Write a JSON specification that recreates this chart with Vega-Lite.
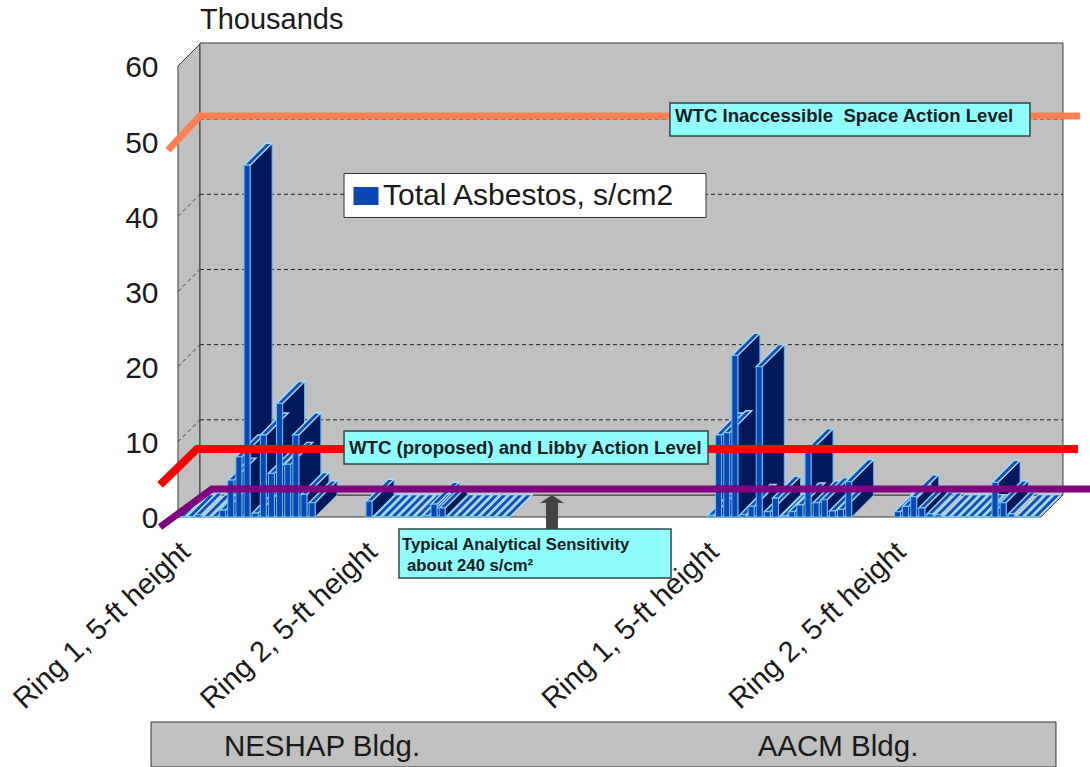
{"$schema":"https://vega.github.io/schema/vega-lite/v6.json","width":1090,"height":767,"padding":0,"autosize":{"type":"none"},"background":"white","config":{"font":"Liberation Sans","view":{"stroke":null},"scale":{"continuousPadding":0},"axis":{"grid":false,"domain":false,"ticks":false,"title":null}},
"datasets":{
"bars":[{"sample":0,"value":0.05},{"sample":1,"value":0.05},{"sample":2,"value":0.3},{"sample":3,"value":0.05},{"sample":4,"value":0.05},{"sample":5,"value":0.9},{"sample":6,"value":4.9},{"sample":7,"value":8},{"sample":8,"value":46.8},{"sample":9,"value":0.5},{"sample":10,"value":10.9},{"sample":11,"value":5.8},{"sample":12,"value":15.1},{"sample":13,"value":7},{"sample":14,"value":10.9},{"sample":15,"value":3},{"sample":16,"value":1.9},
{"sample":23,"value":2.1},{"sample":24,"value":0.05},{"sample":25,"value":0.05},{"sample":26,"value":0.05},{"sample":27,"value":0.05},{"sample":28,"value":0.05},{"sample":29,"value":0.05},{"sample":30,"value":0.2},{"sample":31,"value":1.7},{"sample":32,"value":1.2},{"sample":33,"value":0.05},{"sample":34,"value":0.05},{"sample":35,"value":0.05},{"sample":36,"value":0.05},{"sample":37,"value":0.05},{"sample":38,"value":0.05},{"sample":39,"value":0.05},{"sample":40,"value":0.05},
{"sample":65,"value":0.2},{"sample":66,"value":10.9},{"sample":67,"value":11.2},{"sample":68,"value":21.5},{"sample":69,"value":0.3},{"sample":70,"value":1.4},{"sample":71,"value":20},{"sample":72,"value":0.7},{"sample":73,"value":2.5},{"sample":74,"value":0.1},{"sample":75,"value":0.7},{"sample":76,"value":1.6},{"sample":77,"value":8.8},{"sample":78,"value":1.9},{"sample":79,"value":2.3},{"sample":80,"value":0.8},{"sample":81,"value":1},{"sample":82,"value":4.7},
{"sample":88,"value":0.7},{"sample":89,"value":1.4},{"sample":90,"value":2.7},{"sample":91,"value":1.2},{"sample":92,"value":0.4},{"sample":93,"value":0.3},{"sample":94,"value":0.05},{"sample":95,"value":0.05},{"sample":96,"value":0.05},{"sample":97,"value":0.05},{"sample":98,"value":0.05},{"sample":99,"value":0.05},{"sample":100,"value":4.6},{"sample":101,"value":1.9},{"sample":102,"value":0.4},{"sample":103,"value":0.05},{"sample":104,"value":0.05},{"sample":105,"value":0.05}],
"sides":[{"s":5,"at":5.37,"base":0,"top":0.9},{"s":5,"at":8.08,"base":2.93,"top":3.83},{"s":6,"at":6.37,"base":0,"top":4.9},{"s":6,"at":9.08,"base":2.93,"top":7.83},{"s":7,"at":7.37,"base":0,"top":8},{"s":7,"at":10.08,"base":2.93,"top":10.93},{"s":8,"at":8.37,"base":0,"top":46.8},{"s":8,"at":11.08,"base":2.93,"top":49.73},{"s":9,"at":9.37,"base":0,"top":0.5},{"s":9,"at":12.08,"base":2.93,"top":3.43},{"s":10,"at":10.37,"base":0,"top":10.9},{"s":10,"at":13.08,"base":2.93,"top":13.83},{"s":11,"at":11.37,"base":0,"top":5.8},{"s":11,"at":14.08,"base":2.93,"top":8.73},{"s":12,"at":12.37,"base":0,"top":15.1},{"s":12,"at":15.08,"base":2.93,"top":18.03},{"s":13,"at":13.37,"base":0,"top":7},{"s":13,"at":16.08,"base":2.93,"top":9.93},{"s":14,"at":14.37,"base":0,"top":10.9},{"s":14,"at":17.08,"base":2.93,"top":13.83},{"s":15,"at":15.37,"base":0,"top":3},{"s":15,"at":18.08,"base":2.93,"top":5.93},{"s":16,"at":16.37,"base":0,"top":1.9},{"s":16,"at":19.08,"base":2.93,"top":4.83},
{"s":23,"at":23.37,"base":0,"top":2.1},{"s":23,"at":26.08,"base":2.93,"top":5.03},{"s":31,"at":31.37,"base":0,"top":1.7},{"s":31,"at":34.08,"base":2.93,"top":4.63},{"s":32,"at":32.37,"base":0,"top":1.2},{"s":32,"at":35.08,"base":2.93,"top":4.13},
{"s":66,"at":66.37,"base":0,"top":10.9},{"s":66,"at":69.08,"base":2.93,"top":13.83},{"s":67,"at":67.37,"base":0,"top":11.2},{"s":67,"at":70.08,"base":2.93,"top":14.13},{"s":68,"at":68.37,"base":0,"top":21.5},{"s":68,"at":71.08,"base":2.93,"top":24.43},{"s":70,"at":70.37,"base":0,"top":1.4},{"s":70,"at":73.08,"base":2.93,"top":4.33},{"s":71,"at":71.37,"base":0,"top":20},{"s":71,"at":74.08,"base":2.93,"top":22.93},{"s":72,"at":72.37,"base":0,"top":0.7},{"s":72,"at":75.08,"base":2.93,"top":3.63},{"s":73,"at":73.37,"base":0,"top":2.5},{"s":73,"at":76.08,"base":2.93,"top":5.43},{"s":75,"at":75.37,"base":0,"top":0.7},{"s":75,"at":78.08,"base":2.93,"top":3.63},{"s":76,"at":76.37,"base":0,"top":1.6},{"s":76,"at":79.08,"base":2.93,"top":4.53},{"s":77,"at":77.37,"base":0,"top":8.8},{"s":77,"at":80.08,"base":2.93,"top":11.73},{"s":78,"at":78.37,"base":0,"top":1.9},{"s":78,"at":81.08,"base":2.93,"top":4.83},{"s":79,"at":79.37,"base":0,"top":2.3},{"s":79,"at":82.08,"base":2.93,"top":5.23},{"s":80,"at":80.37,"base":0,"top":0.8},{"s":80,"at":83.08,"base":2.93,"top":3.73},{"s":81,"at":81.37,"base":0,"top":1},{"s":81,"at":84.08,"base":2.93,"top":3.93},{"s":82,"at":82.37,"base":0,"top":4.7},{"s":82,"at":85.08,"base":2.93,"top":7.63},
{"s":88,"at":88.37,"base":0,"top":0.7},{"s":88,"at":91.08,"base":2.93,"top":3.63},{"s":89,"at":89.37,"base":0,"top":1.4},{"s":89,"at":92.08,"base":2.93,"top":4.33},{"s":90,"at":90.37,"base":0,"top":2.7},{"s":90,"at":93.08,"base":2.93,"top":5.63},{"s":91,"at":91.37,"base":0,"top":1.2},{"s":91,"at":94.08,"base":2.93,"top":4.13},{"s":100,"at":100.37,"base":0,"top":4.6},{"s":100,"at":103.08,"base":2.93,"top":7.53},{"s":101,"at":101.37,"base":0,"top":1.9},{"s":101,"at":104.08,"base":2.93,"top":4.83}],
"grid":[{"level":10,"wall":12.93},{"level":20,"wall":22.93},{"level":30,"wall":32.93},{"level":40,"wall":42.93},{"level":50,"wall":52.93}],
"actionLevels":[{"line":"space","at":-1.72,"level":48.82},{"line":"space","at":2.214,"level":53.35},{"line":"space","at":110.45,"level":53.35},{"line":"libby","at":-2.7,"level":4.26},{"line":"libby","at":1.85,"level":9.05},{"line":"libby","at":110.2,"level":9.05},{"line":"sensitivity","at":-2.7,"level":-1.33},{"line":"sensitivity","at":3.69,"level":3.72},{"line":"sensitivity","at":111.7,"level":3.72}]
},
"layer":[
{"data":{"values":[{"face":"left","at":-0.492,"low":0,"high":60},{"face":"left","at":2.214,"low":2.93,"high":62.93},{"face":"floor","at":-0.492,"low":0,"high":0},{"face":"floor","at":2.214,"low":0,"high":2.93},{"face":"floor","at":105.64,"low":0,"high":2.93},{"face":"floor","at":108.36,"low":2.93,"high":2.93}]},
"mark":{"type":"area","fill":"#c0c0c0","stroke":"#3a3a3a","strokeWidth":1},
"encoding":{"x":{"field":"at","type":"quantitative","scale":{"domain":[-22.386,111.685],"nice":false,"zero":false,"padding":0},
"axis":{"values":[0.4,23.4,65.4,88.4],"labelExpr":"datum.value==0.4||datum.value==65.4?'Ring 1, 5-ft height':'Ring 2, 5-ft height'","labelAngle":-43,"labelAlign":"right","labelBaseline":"middle","labelFontSize":29,"labelColor":"#1a1a1a","labelLimit":400,"labelOverlap":false,"labelFlush":false,"labelPadding":5,"domain":false,"ticks":false,"grid":false,"title":null,"offset":-225}},
"y":{"field":"low","type":"quantitative","scale":{"domain":[-33.26,68.78],"nice":false,"zero":false,"padding":0},
"axis":{"values":[0,10,20,30,40,50,60],"labelFontSize":30,"labelColor":"#1a1a1a","labelPadding":20,"labelOffset":2,"domain":false,"ticks":false,"grid":false,"title":null,"offset":-178}},
"y2":{"field":"high"},"detail":{"field":"face"}}},
{"data":{"values":[{"from":2.214,"to":108.36,"low":2.93,"high":63.06}]},"mark":{"type":"rect","fill":"#c0c0c0","stroke":"#3a3a3a","strokeWidth":1},
"encoding":{"x":{"field":"from","type":"quantitative"},"x2":{"field":"to"},"y":{"field":"low","type":"quantitative"},"y2":{"field":"high"}}},
{"data":{"name":"grid"},"mark":{"type":"rule","stroke":"#222","strokeWidth":1,"strokeDash":[4,3]},
"encoding":{"x":{"datum":2.214,"type":"quantitative"},"x2":{"datum":108.36},"y":{"field":"wall","type":"quantitative"}}},
{"data":{"name":"grid"},"mark":{"type":"rule","stroke":"#444","strokeWidth":1,"strokeDash":[4,3]},
"encoding":{"x":{"datum":-0.492,"type":"quantitative"},"x2":{"datum":2.214},"y":{"field":"level","type":"quantitative"},"y2":{"field":"wall"}}},
{"data":{"name":"sides"},"mark":{"type":"area","fill":"#00195c","stroke":"#5fb8f2","strokeWidth":1},
"encoding":{"x":{"field":"at","type":"quantitative"},"y":{"field":"base","type":"quantitative"},"y2":{"field":"top"},"detail":{"field":"s"}}},
{"data":{"name":"bars"},"mark":{"type":"point","filled":true,"shape":"M-3,0L3,0L25,-22L19,-22Z","size":4,"fill":"#154fb0","stroke":"#a4dcfb","strokeWidth":1.4,"opacity":1},
"encoding":{"x":{"field":"sample","type":"quantitative"},"y":{"field":"value","type":"quantitative"}}},
{"data":{"name":"bars"},"mark":{"type":"bar","size":6,"orient":"vertical","stroke":"#62c4f6","strokeWidth":1},
"encoding":{"x":{"field":"sample","type":"quantitative"},"y":{"field":"value","type":"quantitative","stack":null},
"color":{"datum":"Total Asbestos, s/cm2","scale":{"range":["#0a47b5"]},"legend":{"orient":"none","legendX":351,"legendY":181,"zindex":1,"title":null,"padding":0,"labelFontSize":30,"labelColor":"#1a1a1a","labelOffset":2,"labelLimit":400,"symbolType":"M-1,-0.72L1,-0.72L1,0.72L-1,0.72Z","symbolSize":625,"symbolStrokeWidth":0,"symbolOpacity":1}}}},
{"data":{"name":"actionLevels"},"transform":[{"filter":"datum.line=='space'"}],"mark":{"type":"line","stroke":"#ff8052","strokeWidth":7,"strokeJoin":"miter"},"encoding":{"x":{"field":"at","type":"quantitative"},"y":{"field":"level","type":"quantitative"}}},
{"data":{"name":"actionLevels"},"transform":[{"filter":"datum.line=='libby'"}],"mark":{"type":"line","stroke":"#ff0000","strokeWidth":8,"strokeJoin":"miter"},"encoding":{"x":{"field":"at","type":"quantitative"},"y":{"field":"level","type":"quantitative"}}},
{"data":{"name":"actionLevels"},"transform":[{"filter":"datum.line=='sensitivity'"}],"mark":{"type":"line","stroke":"#800080","strokeWidth":7,"strokeJoin":"miter"},"encoding":{"x":{"field":"at","type":"quantitative"},"y":{"field":"level","type":"quantitative"}}},
{"data":{"values":[{"at":45.51,"from":-1.6,"to":1.86}]},"mark":{"type":"rule","stroke":"#444","strokeWidth":12},"encoding":{"x":{"field":"at","type":"quantitative"},"y":{"field":"from","type":"quantitative"},"y2":{"field":"to"}}},
{"data":{"values":[{"at":45.51,"tip":2.39}]},"mark":{"type":"point","filled":true,"shape":"M-12,4L0,-4L12,4Z","size":4,"fill":"#444","opacity":1},"encoding":{"x":{"field":"at","type":"quantitative"},"y":{"field":"tip","type":"quantitative"}}},
{"data":{"values":[{"x1":60.02,"x2":104.3,"y1":55.07,"y2":50.69},{"x1":19.93,"x2":64.7,"y1":11.44,"y2":7.05},{"x1":26.69,"x2":60.15,"y1":-1.6,"y2":-8.11}]},"mark":{"type":"rect","fill":"#90fdff","stroke":"#2a4a4a","strokeWidth":1.5},"encoding":{"x":{"field":"x1","type":"quantitative"},"x2":{"field":"x2"},"y":{"field":"y1","type":"quantitative"},"y2":{"field":"y2"}}},
{"data":{"values":[{"x1":19.93,"x2":64.45,"y1":45.7,"y2":39.85}]},"mark":{"type":"rect","fill":"#ffffff","stroke":"#333","strokeWidth":1},"encoding":{"x":{"field":"x1","type":"quantitative"},"x2":{"field":"x2"},"y":{"field":"y1","type":"quantitative"},"y2":{"field":"y2"}}},
{"data":{"values":[{"x1":-3.81,"x2":107.5,"y1":-27.27,"y2":-33.26}]},"mark":{"type":"rect","fill":"#c0c0c0","stroke":"#333","strokeWidth":1},"encoding":{"x":{"field":"x1","type":"quantitative"},"x2":{"field":"x2"},"y":{"field":"y1","type":"quantitative"},"y2":{"field":"y2"}}},
{"data":{"values":[{"at":60.64,"level":53.35,"label":"WTC Inaccessible\u00a0 Space Action Level"},{"at":20.54,"level":9.18,"label":"WTC (proposed) and Libby Action Level"}]},"mark":{"type":"text","align":"left","baseline":"middle","fontSize":18.6,"fontWeight":"bold","fill":"#102020"},"encoding":{"x":{"field":"at","type":"quantitative"},"y":{"field":"level","type":"quantitative"},"text":{"field":"label"}}},
{"data":{"values":[{"at":27.06,"level":-3.72,"label":"Typical Analytical Sensitivity"},{"at":27.68,"level":-6.52,"label":"about 240 s/cm²"}]},"mark":{"type":"text","align":"left","baseline":"middle","fontSize":16.7,"fontWeight":"bold","fill":"#102020"},"encoding":{"x":{"field":"at","type":"quantitative"},"y":{"field":"level","type":"quantitative"},"text":{"field":"label"}}},
{"data":{"values":[{"at":17.22,"level":-30.6,"label":"NESHAP Bldg."},{"at":80.69,"level":-30.6,"label":"AACM Bldg."}]},"mark":{"type":"text","align":"center","baseline":"middle","fontSize":29.5,"fill":"#1a1a1a"},"encoding":{"x":{"field":"at","type":"quantitative"},"y":{"field":"level","type":"quantitative"},"text":{"field":"label"}}},
{"data":{"values":[{"at":2.214,"level":66.1,"label":"Thousands"}]},"mark":{"type":"text","align":"left","baseline":"middle","fontSize":29,"fill":"#1a1a1a"},"encoding":{"x":{"field":"at","type":"quantitative"},"y":{"field":"level","type":"quantitative"},"text":{"field":"label"}}}
]}
